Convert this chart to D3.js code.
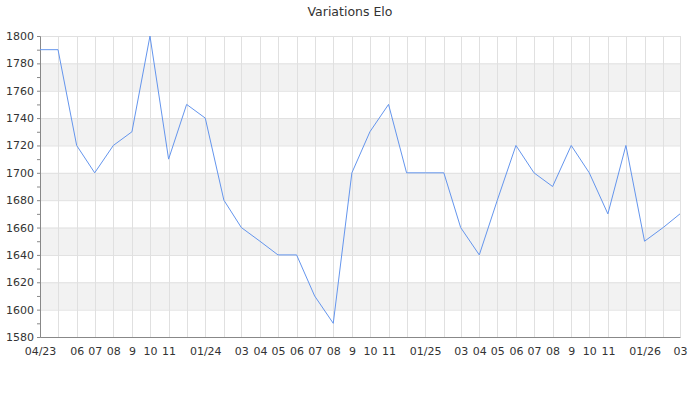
<!DOCTYPE html>
<html>
<head>
<meta charset="utf-8">
<script src="https://cdn.jsdelivr.net/npm/d3@7"></script>
<style>
  body { margin: 0; background: #fff; }
  svg text { font-family: "DejaVu Sans", sans-serif; fill: #333; }
</style>
</head>
<body>
<svg width="700" height="400"></svg>
<script>
// monthly points, april 2023 -> march 2026
const months = [
  "2023-04", "2023-05", "2023-06", "2023-07", "2023-08", "2023-09", "2023-10", "2023-11", "2023-12",
  "2024-01", "2024-02", "2024-03", "2024-04", "2024-05", "2024-06", "2024-07", "2024-08", "2024-09",
  "2024-10", "2024-11", "2024-12", "2025-01", "2025-02", "2025-03", "2025-04", "2025-05", "2025-06",
  "2025-07", "2025-08", "2025-09", "2025-10", "2025-11", "2025-12", "2026-01", "2026-02", "2026-03"
];
const elo = [
  1790, 1790, 1720, 1700, 1720, 1730, 1800, 1710, 1750,
  1740, 1680, 1660, 1650, 1640, 1640, 1610, 1590, 1700,
  1730, 1750, 1700, 1700, 1700, 1660, 1640, 1680, 1720,
  1700, 1690, 1720, 1700, 1670, 1720, 1650, 1660, 1670
];
// labels shown under the axis (some months are skipped)
const tickMonths = [
  "2023-04", "2023-06", "2023-07", "2023-08", "2023-09", "2023-10", "2023-11",
  "2024-01", "2024-03", "2024-04", "2024-05", "2024-06", "2024-07", "2024-08", "2024-09", "2024-10", "2024-11",
  "2025-01", "2025-03", "2025-04", "2025-05", "2025-06", "2025-07", "2025-08", "2025-09", "2025-10", "2025-11",
  "2026-01", "2026-03"
];
const tickLabels = [
  "04/23", "06", "07", "08", "9", "10", "11",
  "01/24", "03", "04", "05", "06", "07", "08", "9", "10", "11",
  "01/25", "03", "04", "05", "06", "07", "08", "9", "10", "11",
  "01/26", "03"
];
const yTicks = [1580, 1600, 1620, 1640, 1660, 1680, 1700, 1720, 1740, 1760, 1780, 1800];

const svg = d3.select("svg");
const margin = { top: 36, right: 20, bottom: 63, left: 40 };
const width = 700 - margin.left - margin.right;
const height = 400 - margin.top - margin.bottom;
const parse = d3.timeParse("%Y-%m");

const data = months.map((m, i) => ({ date: parse(m), value: elo[i] }));

const x = d3.scaleTime()
  .domain(d3.extent(data, d => d.date))
  .range([0, width]);
const y = d3.scaleLinear()
  .domain([1580, 1800])
  .range([height, 0]);

svg.append("text")
  .attr("x", 350)
  .attr("y", 16)
  .attr("text-anchor", "middle")
  .attr("font-size", "12.5px")
  .text("Variations Elo");

const g = svg.append("g").attr("transform", `translate(${margin.left},${margin.top})`);

// alternating bands (1600-1620, 1640-1660, ...)
const bands = d3.pairs(yTicks).filter((p, i) => i % 2 === 1);
g.append("g")
  .selectAll("rect")
  .data(bands)
  .join("rect")
  .attr("x", 0)
  .attr("width", width)
  .attr("y", d => y(d[1]))
  .attr("height", d => y(d[0]) - y(d[1]))
  .attr("fill", "#f2f2f2");

// grid
g.append("g")
  .selectAll("line")
  .data(yTicks)
  .join("line")
  .attr("x1", 0).attr("x2", width)
  .attr("y1", d => y(d) + 0.5).attr("y2", d => y(d) + 0.5)
  .attr("stroke", "#e0e0e0");

g.append("g")
  .selectAll("line")
  .data(data.map(d => d.date))
  .join("line")
  .attr("x1", d => Math.round(x(d)) + 0.5).attr("x2", d => Math.round(x(d)) + 0.5)
  .attr("y1", 0).attr("y2", height)
  .attr("stroke", "#e0e0e0");

// y axis with minor ticks
const yMinor = d3.range(1590, 1800, 20);
g.append("g")
  .selectAll("line")
  .data(yMinor)
  .join("line")
  .attr("x1", -3).attr("x2", 0)
  .attr("y1", d => y(d) + 0.5).attr("y2", d => y(d) + 0.5)
  .attr("stroke", "#888");

const yAxis = g.append("g")
  .call(d3.axisLeft(y).tickValues(yTicks).tickSize(3).tickPadding(3).tickFormat(d3.format("d")));
yAxis.select(".domain").attr("stroke", "#888");
yAxis.selectAll(".tick line").attr("stroke", "#888");
yAxis.selectAll("text").attr("font-size", "11px").attr("fill", "#333");

// x axis
const xAxis = g.append("g")
  .attr("transform", `translate(0,${height})`)
  .call(d3.axisBottom(x)
    .tickValues(tickMonths.map(parse))
    .tickSize(0)
    .tickPadding(10)
    .tickFormat((d, i) => tickLabels[i]));
xAxis.select(".domain").attr("stroke", "#888");
xAxis.selectAll("text").attr("font-size", "11px").attr("fill", "#333");

// line
g.append("path")
  .datum(data)
  .attr("fill", "none")
  .attr("stroke", "#6495ed")
  .attr("stroke-width", 1)
  .attr("d", d3.line().x(d => x(d.date)).y(d => y(d.value)));
</script>
</body>
</html>
